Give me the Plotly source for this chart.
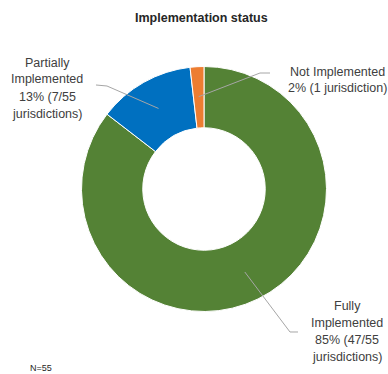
import math
import plotly.graph_objects as go

# Implementation status of 55 jurisdictions
categories = ["Fully Implemented", "Partially Implemented", "Not Implemented"]
counts = [47, 7, 1]
label_lines = [
    ["Fully", "Implemented", "85% (47/55", "jurisdictions)"],
    ["Partially", "Implemented", "13% (7/55", "jurisdictions)"],
    ["Not Implemented", "2% (1 jurisdiction)"],
]
colors = ["#548235", "#0070C0", "#ED7D31"]
title_text = "Implementation status"
note_text = "N=55"

W, H = 388, 374
FONT = "Liberation Sans, Arial, sans-serif"

# pie geometry in pixels
CX, CY, R = 204.0, 189.0, 122.5
LINE_PITCH = 17.0


def px(x, y):
    """pixel -> paper coordinates (no margins)"""
    return x / W, 1 - y / H


x0, y0 = px(CX - R, CY + R)
x1, y1 = px(CX + R, CY - R)

fig = go.Figure(
    go.Pie(
        labels=categories,
        values=counts,
        hole=0.5,
        sort=False,
        direction="clockwise",
        rotation=0,
        marker=dict(colors=colors, line=dict(color="white", width=1)),
        textinfo="none",
        hoverinfo="label+value+percent",
        domain=dict(x=[x0, x1], y=[y0, y1]),
    )
)

# label block centres (pixels) and leader-line elbows
label_pos = [(347, 331), (47, 88), (337, 80)]
elbows = [[(290, 332), (298, 332)], [(107, 86), (96, 85)], [(260, 73), (270, 73)]]

total = sum(counts)
cum = 0
shapes = []
annotations = []
for i, v in enumerate(counts):
    mid = (cum + v / 2) / total
    cum += v
    ang = 2 * math.pi * mid
    ax = CX + 0.755 * R * math.sin(ang)
    ay = CY - 0.755 * R * math.cos(ang)
    pts = [(ax, ay)] + elbows[i]
    path = "M " + " L ".join(
        f"{px(a, b)[0]:.5f},{px(a, b)[1]:.5f}" for a, b in pts
    )
    shapes.append(
        dict(type="path", xref="paper", yref="paper", path=path,
             line=dict(color="#A6A6A6", width=1))
    )
    lines = label_lines[i]
    cxl, cyl = label_pos[i]
    top = cyl - LINE_PITCH * (len(lines) - 1) / 2
    for k, line in enumerate(lines):
        lx, ly = px(cxl, top + k * LINE_PITCH)
        annotations.append(
            dict(text=line, x=lx, y=ly, xref="paper", yref="paper",
                 showarrow=False, xanchor="center", yanchor="middle",
                 font=dict(family=FONT, size=12.5, color="#404040"))
        )

tx, ty = px(201, 18)
annotations.append(
    dict(text=f"<b>{title_text}</b>", x=tx, y=ty, xref="paper", yref="paper",
         showarrow=False, xanchor="center", yanchor="middle",
         font=dict(family=FONT, size=12.5, color="#262626"))
)
nx, ny = px(28, 368)
annotations.append(
    dict(text=note_text, x=nx, y=ny, xref="paper", yref="paper",
         showarrow=False, xanchor="left", yanchor="middle",
         font=dict(family=FONT, size=9, color="#262626"))
)

fig.update_layout(
    width=W, height=H,
    margin=dict(l=0, r=0, t=0, b=0),
    paper_bgcolor="white", plot_bgcolor="white",
    showlegend=False,
    shapes=shapes,
    annotations=annotations,
)

fig.write_html("out.html")
